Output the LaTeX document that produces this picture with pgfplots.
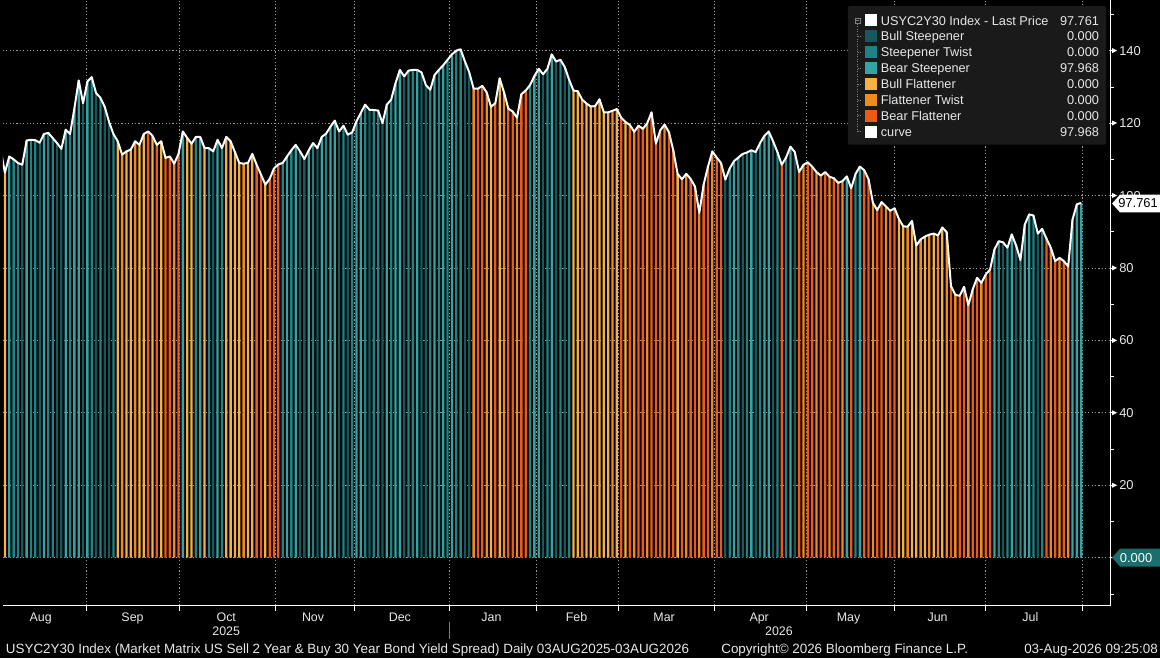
\documentclass[border=0pt]{standalone}
\usepackage{pgfplots}
\pgfplotsset{compat=1.18}
\usepackage{pgfplotstable}
\usepackage{fontspec}
\setmainfont{Liberation Sans}
\definecolor{cBS}{HTML}{14595C}
\definecolor{cST}{HTML}{1D8386}
\definecolor{cBeS}{HTML}{34A3A6}
\definecolor{cBF}{HTML}{F5B043}
\definecolor{cFT}{HTML}{F08A1C}
\definecolor{cBeF}{HTML}{EE5A14}
\definecolor{legbg}{HTML}{1A1A1A}
\definecolor{gridc}{HTML}{9A9A9A}
\definecolor{txt}{HTML}{E8E8E8}
\definecolor{cZero}{HTML}{1B6E6E}

% curve: all trading days in order
\pgfplotstableread{
i v
-1 112.7
0 106.3
1 110.8
2 110.0
3 109.0
4 108.5
5 115.2
6 115.4
7 115.3
8 114.6
9 117.0
10 117.3
11 115.9
12 114.5
13 112.9
14 118.2
15 117.0
16 124.0
17 131.8
18 125.5
19 131.5
20 132.7
21 128.3
22 127.0
23 124.5
24 120.3
25 117.0
26 115.0
27 111.3
28 112.2
29 112.7
30 115.0
31 114.0
32 117.0
33 117.7
34 116.5
35 114.0
36 115.0
37 110.4
38 110.8
39 108.8
40 111.5
41 117.7
42 115.9
43 114.3
44 116.2
45 116.2
46 113.1
47 113.1
48 112.2
49 115.4
50 113.1
51 116.2
52 115.0
53 112.0
54 109.0
55 108.8
56 109.0
57 111.5
58 108.5
59 105.8
60 103.0
61 104.6
62 107.5
63 108.6
64 109.0
65 110.8
66 112.5
67 114.0
68 112.2
69 110.1
70 112.5
71 114.5
72 113.1
73 116.2
74 117.1
75 119.0
76 120.7
77 117.7
78 119.3
79 116.8
80 117.4
81 120.5
82 122.8
83 125.1
84 123.7
85 123.6
86 123.5
87 120.0
88 125.1
89 126.5
90 131.0
91 134.7
92 132.9
93 134.5
94 134.7
95 134.7
96 134.0
97 130.5
98 129.2
99 133.3
100 134.7
101 136.0
102 137.5
103 139.0
104 140.0
105 140.4
106 137.0
107 134.0
108 129.5
109 129.5
110 130.3
111 128.5
112 124.5
113 125.5
114 132.4
115 128.5
116 124.0
117 123.2
118 121.5
119 128.0
120 129.0
121 130.5
122 133.0
123 135.0
124 133.5
125 135.0
126 139.0
127 137.0
128 137.5
129 135.5
130 132.0
131 129.0
132 128.8
133 126.5
134 125.4
135 124.6
136 124.7
137 126.6
138 123.0
139 123.0
140 123.4
141 123.9
142 121.5
143 120.3
144 119.5
145 117.6
146 119.3
147 118.4
148 120.0
149 123.0
150 114.3
151 118.0
152 119.6
153 117.5
154 112.5
155 106.0
156 104.5
157 106.0
158 104.6
159 102.5
160 95.2
161 103.0
162 108.0
163 112.2
164 110.5
165 109.0
166 104.4
167 107.5
168 109.5
169 110.5
170 111.5
171 111.9
172 112.5
173 112.0
174 114.5
175 116.5
176 117.7
177 115.0
178 112.0
179 108.5
180 110.5
181 113.5
182 112.0
183 106.5
184 108.5
185 109.2
186 108.0
187 106.5
188 105.5
189 106.5
190 105.2
191 104.8
192 103.5
193 104.0
194 105.3
195 102.0
196 106.0
197 108.0
198 107.0
199 104.5
200 98.0
201 96.0
202 98.2
203 97.0
204 95.8
205 96.5
206 93.5
207 91.5
208 91.4
209 93.0
210 86.2
211 87.9
212 88.7
213 89.2
214 89.5
215 89.0
216 91.2
217 89.9
218 75.0
219 72.6
220 72.3
221 74.8
222 69.7
223 74.1
224 77.3
225 75.9
226 78.2
227 79.6
228 85.1
229 87.4
230 87.1
231 85.6
232 89.3
233 86.2
234 82.2
235 92.0
236 94.8
237 94.5
238 89.5
239 90.8
240 88.1
241 85.6
242 81.9
243 82.8
244 81.9
245 80.4
246 93.4
247 97.6
248 97.97
}\curve

% Bull Steepener days
\pgfplotstableread{
i v
4 108.5
8 114.6
12 114.5
13 112.9
18 125.5
21 128.3
23 124.5
24 120.3
48 112.2
68 112.2
69 110.1
72 113.1
77 117.7
79 116.8
84 123.7
87 120.0
92 132.9
96 134.0
97 130.5
106 137.0
107 134.0
124 133.5
127 137.0
129 135.5
166 104.4
170 111.5
173 112.0
177 115.0
182 112.0
230 87.1
233 86.2
238 89.5
}\tBS

% Steepener Twist days
\pgfplotstableread{
i v
2 110.0
3 109.0
6 115.4
7 115.3
10 117.3
11 115.9
15 117.0
20 132.7
22 127.0
25 117.0
44 116.2
47 113.1
50 113.1
64 109.0
66 112.5
71 114.5
74 117.1
78 119.3
80 117.4
83 125.1
85 123.6
86 123.5
89 126.5
93 134.5
94 134.7
98 129.2
100 134.7
102 137.5
104 140.0
105 140.4
121 130.5
125 135.0
128 137.5
130 132.0
167 107.5
169 110.5
171 111.9
174 114.5
178 112.0
180 110.5
196 106.0
229 87.4
231 85.6
234 82.2
237 94.5
239 90.8
}\tST

% Bear Steepener days
\pgfplotstableread{
i v
1 110.8
5 115.2
9 117.0
14 118.2
16 124.0
17 131.8
19 131.5
41 117.7
45 116.2
49 115.4
65 110.8
67 114.0
70 112.5
73 116.2
75 119.0
76 120.7
81 120.5
82 122.8
88 125.1
90 131.0
91 134.7
95 134.7
99 133.3
101 136.0
103 139.0
122 133.0
123 135.0
126 139.0
168 109.5
172 112.5
175 116.5
176 117.7
181 113.5
194 105.3
197 108.0
228 85.1
232 89.3
235 92.0
236 94.8
246 93.4
247 97.6
248 97.97
}\tBeS

% Bull Flattener days
\pgfplotstableread{
i v
-1 112.7
0 106.3
26 115.0
28 112.2
29 112.7
31 114.0
32 117.0
34 116.5
36 115.0
42 115.9
43 114.3
46 113.1
51 116.2
52 115.0
53 112.0
54 109.0
56 109.0
57 111.5
60 103.0
112 124.5
114 132.4
131 129.0
132 128.8
134 125.4
135 124.6
137 126.6
138 123.0
139 123.0
141 123.9
143 120.3
155 106.0
206 93.5
207 91.5
209 93.0
210 86.2
212 88.7
214 89.5
216 91.2
}\tBF

% Flattener Twist days
\pgfplotstableread{
i v
27 111.3
30 115.0
39 108.8
55 108.8
108 129.5
111 128.5
115 128.5
118 121.5
133 126.5
136 124.7
140 123.4
145 117.6
148 120.0
152 119.6
157 106.0
160 95.2
163 112.2
184 108.5
187 106.5
190 105.2
193 104.0
200 98.0
203 97.0
208 91.4
211 87.9
213 89.2
215 89.0
217 89.9
219 72.6
222 69.7
225 75.9
241 85.6
243 82.8
245 80.4
}\tFT

% Bear Flattener days
\pgfplotstableread{
i v
33 117.7
35 114.0
37 110.4
38 110.8
40 111.5
58 108.5
59 105.8
61 104.6
62 107.5
63 108.6
109 129.5
110 130.3
113 125.5
116 124.0
117 123.2
119 128.0
120 129.0
142 121.5
144 119.5
146 119.3
147 118.4
149 123.0
150 114.3
151 118.0
153 117.5
154 112.5
156 104.5
158 104.6
159 102.5
161 103.0
162 108.0
164 110.5
165 109.0
179 108.5
183 106.5
185 109.2
186 108.0
188 105.5
189 106.5
191 104.8
192 103.5
195 102.0
198 107.0
199 104.5
201 96.0
202 98.2
204 95.8
205 96.5
218 75.0
220 72.3
221 74.8
223 74.1
224 77.3
226 78.2
227 79.6
240 88.1
242 81.9
244 81.9
}\tBeF

\pgfplotsset{
  regbar/.style={ybar, bar width=2.3bp, bar shift=0pt, draw=none, fill=#1}
}

\newcommand\fs{\fontsize{12.5}{14}\selectfont}
\newcommand\fl{\fontsize{12.8}{15}\selectfont}
\newcommand\ff{\fontsize{13.5}{15}\selectfont}
\newcommand\ft{\fontsize{13}{15}\selectfont}

\begin{document}
\pagecolor{black}
\begin{tikzpicture}
\useasboundingbox (0,0) rectangle (1160bp,660bp);
\begin{axis}[
  at={(0bp,53bp)}, anchor=south west,
  width=1110bp, height=607bp, scale only axis,
  xmin=-0.5, xmax=254.66, ymin=-13.2, ymax=154,
  axis x line*=bottom, axis y line*=right,
  axis line style={white, line width=0.8bp, -},
  xtick={18.81,40.19,62.26,80.42,102.49,122.49,141.34,163.41,184.79,205.02,225.94,248.24},
  xticklabels={},
  extra x ticks={8.24,29.4,51.0,71.0,91.0,112.1,131.7,151.9,173.8,194.4,214.9,236.3},
  extra x tick labels={Aug,Sep,Oct,Nov,Dec,Jan,Feb,Mar,Apr,May,Jun,Jul},
  extra x tick style={major tick length=0pt, grid=none},
  ytick={0,20,...,140},
  yticklabels={,20,40,60,80,100,120,140},
  minor ytick={-10,10,30,50,70,90,110,130,150},
  tick align=outside,
  major tick length=5bp, minor tick length=4bp,
  tick style={white, line width=0.8bp},
  tick label style={text=txt, font=\fs},
  yticklabel style={anchor=west, inner sep=0pt, xshift=4bp, font=\ft},
  xticklabel style={anchor=north, inner sep=0pt, yshift=-7bp},
  xmajorgrids=true, ymajorgrids=true,
  major grid style={draw=gridc, dash pattern=on 1.2bp off 2.2bp, line width=0.8bp},
]
\addplot[regbar=cBS] table[x=i,y=v]{\tBS};
\addplot[regbar=cST] table[x=i,y=v]{\tST};
\addplot[regbar=cBeS] table[x=i,y=v]{\tBeS};
\addplot[regbar=cBF] table[x=i,y=v]{\tBF};
\addplot[regbar=cFT] table[x=i,y=v]{\tFT};
\addplot[regbar=cBeF] table[x=i,y=v]{\tBeF};
\addplot[white, line width=2bp, line join=round, mark=none] table[x=i,y=v]{\curve};
\end{axis}

% tick arrow heads on right axis
\foreach \v in {20,40,...,140}{
  \pgfmathsetmacro\yy{101+3.6304*\v}
  \fill[white] (1112bp,{(\yy+2.5)*1bp}) -- (1117bp,{\yy*1bp}) -- (1112bp,{(\yy-2.5)*1bp}) -- cycle;
}

% legend
\fill[legbg, rounded corners=2bp] (847bp,515bp) rectangle (1106bp,654bp);
\draw[gray, line width=0.5bp] (854.5bp,637bp) rectangle (859.5bp,642bp);
\draw[gray, line width=0.5bp] (855.5bp,639.5bp) -- (858.5bp,639.5bp);
\draw[gray, line width=0.5bp, dash pattern=on 1bp off 1.5bp] (857bp,636bp) -- (857bp,528bp);
\foreach \yy/\col/\name/\val in {
  639.5/white/{USYC2Y30 Index - Last Price}/97.761,
  624/cBS/{Bull Steepener}/0.000,
  608/cST/{Steepener Twist}/0.000,
  592/cBeS/{Bear Steepener}/97.968,
  576/cBF/{Bull Flattener}/0.000,
  560/cFT/{Flattener Twist}/0.000,
  544/cBeF/{Bear Flattener}/0.000,
  528/white/{curve}/97.968}{
  \ifdim\yy pt<638pt
    \draw[gray, line width=0.5bp, dash pattern=on 1bp off 1.5bp] (857bp,\yy bp) -- (862bp,\yy bp);
  \fi
  \fill[\col] (864bp,{(\yy-6)*1bp}) rectangle (876bp,{(\yy+6)*1bp});
  \node[anchor=base west, inner sep=0pt, text=txt, font=\fl] at (880bp,{(\yy-4.6)*1bp}) {\name};
  \node[anchor=base east, inner sep=0pt, text=txt, font=\fl] at (1099bp,{(\yy-4.6)*1bp}) {\val};
}

% callouts
\fill[white] (1112bp,456bp) -- (1120bp,465bp) -- (1160bp,465bp) -- (1160bp,447bp) -- (1120bp,447bp) -- cycle;
\node[text=black, font=\ft, inner sep=0pt] at (1138bp,456bp) {97.761};
\fill[cZero] (1112bp,101bp) -- (1120bp,110bp) -- (1160bp,110bp) -- (1160bp,92bp) -- (1120bp,92bp) -- cycle;
\node[text=white, font=\ft, inner sep=0pt] at (1136bp,101bp) {0.000};

% years and footer
\node[anchor=base, inner sep=0pt, text=txt, font=\fs] at (224bp,23bp) {2025};
\node[anchor=base, inner sep=0pt, text=txt, font=\fs] at (778bp,23bp) {2026};
\draw[gray, line width=0.8bp] (448bp,19bp) -- (448bp,37bp);
\node[anchor=base west, inner sep=0pt, text=txt, font=\ff] at (3bp,5bp) {USYC2Y30 Index (Market Matrix US Sell 2 Year \& Buy 30 Year Bond Yield Spread) Daily 03AUG2025-03AUG2026};
\node[anchor=base, inner sep=0pt, text=txt, font=\ff] at (844bp,5bp) {Copyright© 2026 Bloomberg Finance L.P.};
\node[anchor=base east, inner sep=0pt, text=txt, font=\ff] at (1158bp,5bp) {03-Aug-2026 09:25:08};
\end{tikzpicture}
\end{document}
